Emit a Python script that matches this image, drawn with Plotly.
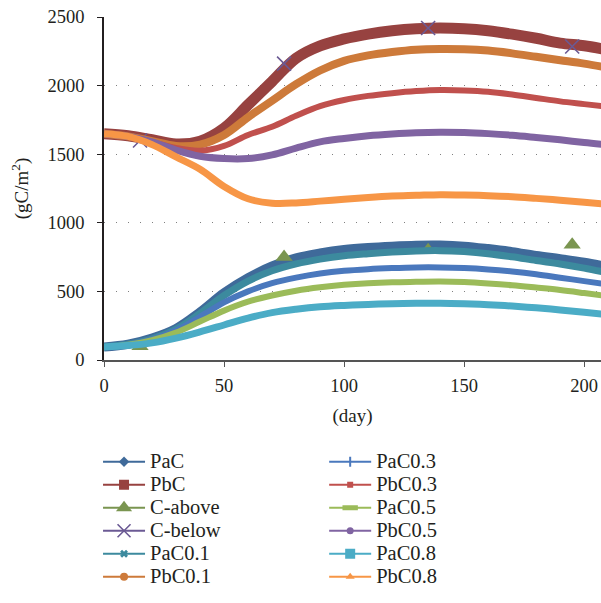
import plotly.graph_objects as go

# Simulated carbon pools, sampled every 10 days
days = [0, 10, 20, 30, 40, 50, 60, 70, 80, 90, 100, 110, 120, 130, 140, 150, 160, 170, 180, 190, 200, 210]

pac = [95, 115, 160, 230, 350, 490, 600, 685, 745, 780, 805, 820, 830, 837, 838, 830, 812, 790, 762, 738, 712, 680]
pbc = [1650, 1635, 1605, 1575, 1595, 1690, 1860, 2030, 2200, 2290, 2340, 2375, 2400, 2415, 2420, 2415, 2400, 2375, 2345, 2310, 2290, 2260]
pac01 = [95, 115, 155, 225, 340, 470, 575, 650, 700, 735, 760, 775, 787, 795, 797, 790, 775, 752, 725, 700, 670, 635]
pbc01 = [1650, 1630, 1595, 1560, 1570, 1640, 1770, 1890, 2010, 2110, 2180, 2220, 2245, 2262, 2267, 2265, 2255, 2235, 2210, 2185, 2160, 2130]
pac03 = [95, 112, 150, 215, 315, 420, 500, 560, 600, 630, 650, 662, 670, 675, 675, 670, 660, 645, 625, 600, 575, 550]
pbc03 = [1650, 1630, 1590, 1545, 1525, 1560, 1640, 1700, 1780, 1850, 1895, 1925, 1945, 1960, 1968, 1965, 1955, 1935, 1910, 1885, 1865, 1845]
pac05 = [95, 112, 145, 200, 280, 360, 425, 470, 505, 530, 548, 560, 567, 570, 572, 568, 558, 545, 528, 510, 488, 465]
pbc05 = [1650, 1630, 1590, 1530, 1485, 1468, 1468, 1495, 1545, 1590, 1615, 1635, 1648, 1657, 1660, 1658, 1650, 1638, 1622, 1605, 1585, 1568]
pac08 = [95, 105, 125, 160, 205, 255, 305, 345, 370, 388, 398, 405, 410, 413, 414, 410, 403, 393, 380, 365, 348, 330]
pbc08 = [1650, 1630, 1570, 1480, 1390, 1265, 1175, 1143, 1145, 1158, 1172, 1185, 1195, 1200, 1205, 1203, 1198, 1190, 1178, 1165, 1150, 1135]

# Measured values
obs_days = [15, 75, 135, 195]
c_above = [100, 750, 800, 840]
c_below = [1600, 2160, 2420, 2285]

FONT = "Liberation Serif"
TXT = "#231f20"

series = [
    # name, values, colour, curve width, legend marker, legend id
    ("PaC", pac, "#3f6a9a", 9, dict(symbol="diamond", size=8), "legend"),
    ("PbC", pbc, "#974240", 11, dict(symbol="square", size=10), "legend"),
    ("C-above", None, "#7a9550", 0, dict(symbol="triangle-up", size=14), "legend"),
    ("C-below", None, "#6b5a94", 0, dict(symbol="x-thin", size=13, line=dict(width=1.6, color="#6b5a94")), "legend"),
    ("PaC0.1", pac01, "#3c8a9e", 7, dict(symbol="x", size=7), "legend"),
    ("PbC0.1", pbc01, "#cd7a3a", 8, dict(symbol="circle", size=8), "legend"),
    ("PaC0.3", pac03, "#4a78bd", 6, dict(symbol="line-ns", size=7, line=dict(width=2, color="#4a78bd")), "legend2"),
    ("PbC0.3", pbc03, "#c0504d", 6, dict(symbol="square", size=6), "legend2"),
    ("PaC0.5", pac05, "#9bbb59", 6, dict(symbol="line-ew", size=11, line=dict(width=5, color="#9bbb59")), "legend2"),
    ("PbC0.5", pbc05, "#8064a2", 7, dict(symbol="circle", size=7), "legend2"),
    ("PaC0.8", pac08, "#4bacc6", 7, dict(symbol="square", size=10), "legend2"),
    ("PbC0.8", pbc08, "#f79646", 7, dict(symbol="triangle-up", size=8), "legend2"),
]

fig = go.Figure()

for name, vals, color, width, marker, leg in series:
    if name == "C-above":
        fig.add_trace(go.Scatter(x=obs_days, y=c_above, mode="markers", showlegend=False,
                                 marker=dict(symbol="triangle-up", size=15, color=color)))
    elif name == "C-below":
        fig.add_trace(go.Scatter(x=obs_days, y=c_below, mode="markers", showlegend=False,
                                 marker=dict(symbol="x-thin", size=14, color=color,
                                             line=dict(width=1.6, color=color))))
    else:
        fig.add_trace(go.Scatter(x=days, y=vals, mode="lines", showlegend=False,
                                 line=dict(color=color, width=width, shape="spline", smoothing=1.0)))

# Legend entries (line with marker); row spacing follows the legend font,
# the label itself is set a little larger
for name, vals, color, width, marker, leg in series:
    m = dict(color=color)
    m.update(marker)
    fig.add_trace(go.Scatter(x=[None], y=[None], mode="lines+markers",
                             name=f'<span style="font-size:20.5px">{name}</span>',
                             line=dict(color=color, width=2), marker=m, legend=leg))

axis_common = dict(
    showline=True, linewidth=1.5, ticks="outside", ticklen=5,
    tickfont=dict(family=FONT, size=18.5, color=TXT),
    zeroline=False,
)

legend_common = dict(
    yanchor="top", xanchor="left", itemwidth=42,
    font=dict(family=FONT, size=15.4, color=TXT), tracegroupgap=0,
    bgcolor="rgba(0,0,0,0)",
)

fig.update_layout(
    width=601, height=603,
    margin=dict(l=104, r=0, t=17, b=243),
    paper_bgcolor="white", plot_bgcolor="white",
    font=dict(family=FONT, size=17, color=TXT),
    xaxis=dict(range=[0, 207], tickvals=[0, 50, 100, 150, 200], showgrid=False,
               linecolor="#555555", tickcolor="#555555", ticklabelstandoff=3,
               title=dict(text="(day)", font=dict(family=FONT, size=19, color=TXT), standoff=14),
               **axis_common),
    yaxis=dict(range=[0, 2500], tickvals=[0, 500, 1000, 1500, 2000, 2500],
               showgrid=True, gridcolor="#7f7f7f", gridwidth=1, griddash="1px,11px",
               linecolor="#231f20", tickcolor="#231f20", ticklabelstandoff=9,
               title=dict(text="(gC/m<sup>2</sup>)", font=dict(family=FONT, size=19, color=TXT), standoff=14),
               **axis_common),
    legend=dict(x=-0.012, y=-0.2485, **legend_common),
    legend2=dict(x=0.443, y=-0.2485, **legend_common),
    showlegend=True,
)

fig.write_html("out.html")
